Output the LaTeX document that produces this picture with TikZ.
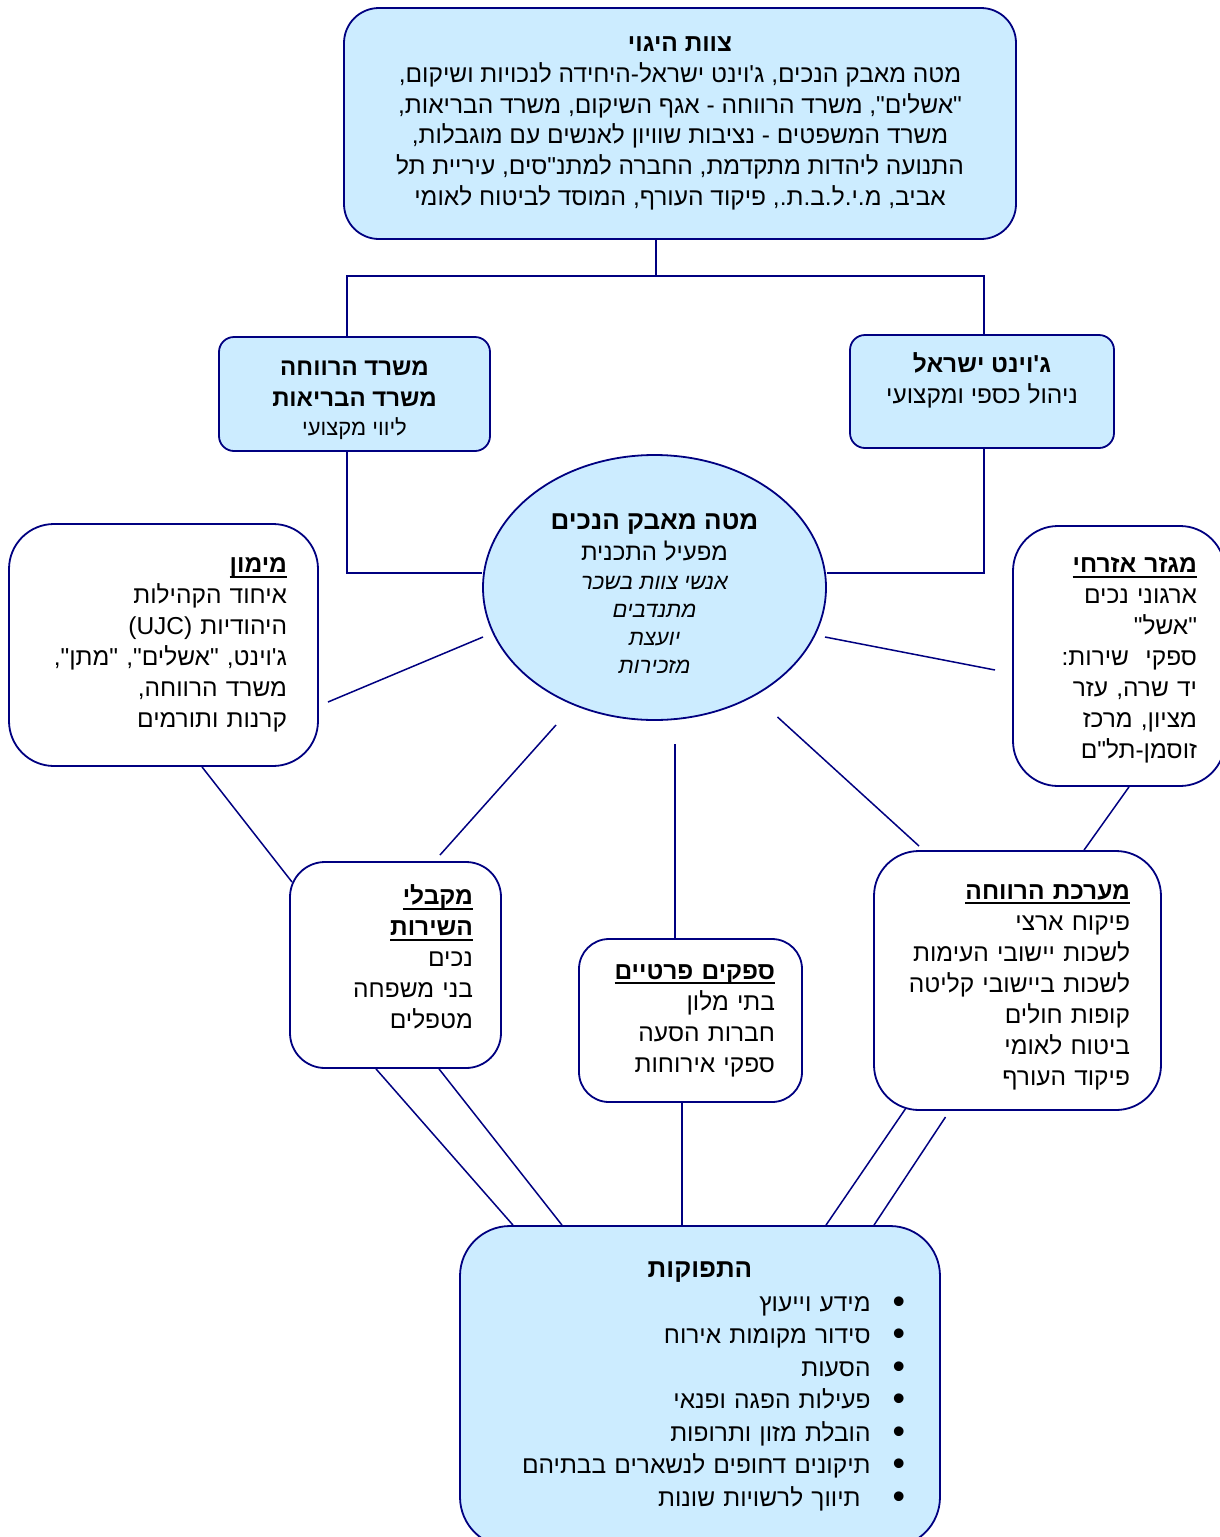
\documentclass[tikz,border=0pt]{standalone}
\usepackage{fontspec}
\usepackage{tikz}
\usetikzlibrary{shapes.geometric}
\newfontfamily\hebrew[Script=Hebrew]{Liberation Sans}
\TeXXeTstate=1
\definecolor{boxfill}{RGB}{204,236,255}
\definecolor{navyline}{RGB}{0,0,128}
\newcommand\rl[1]{\mbox{\beginR#1\endR}}
\newcommand\ulhead[1]{\leavevmode\setbox0=\hbox{\bfseries\beginR#1\endR}\rlap{\vrule height -3pt depth 5pt width \wd0}\box0}
% bullet kept outside the right-to-left run
\newcommand\bul[2][0pt]{\mbox{\beginR#2\endR\hskip#1\relax\hskip22pt\raisebox{-2pt}{\scalebox{1.45}{\textbullet}}}}

\begin{document}
\begin{tikzpicture}[x=1pt,y=-1pt,
    every node/.style={font=\hebrew\fontsize{24.5}{31}\selectfont},
    bluebox/.style={draw=navyline,fill=boxfill,line width=1.8,align=center},
    whitebox/.style={draw=navyline,fill=white,line width=1.8,align=right},
    spoke/.style={draw=navyline,line width=1.5}]
    \useasboundingbox (0,0) rectangle (1220,1537);
    % top of the tree
    \node[bluebox,rounded corners=35,minimum width=672,minimum height=231,
          font=\hebrew\fontsize{24.5}{30.7}\selectfont] (team) at (680,123.5)
        {\textbf{\rl{צוות היגוי}}\\
         \rl{מטה מאבק הנכים, ג'וינט ישראל-היחידה לנכויות ושיקום,}\\
         \rl{"אשלים", משרד הרווחה - אגף השיקום, משרד הבריאות,}\\
         \rl{משרד המשפטים - נציבות שוויון לאנשים עם מוגבלות,}\\
         \rl{התנועה ליהדות מתקדמת, החברה למתנ"סים, עיריית תל}\\
         \rl{אביב, מ.י.ל.ב.ת., פיקוד העורף, המוסד לביטוח לאומי}};
    \node[bluebox,rounded corners=15,minimum width=271,minimum height=114,
          font=\hebrew\fontsize{24}{31}\selectfont] (welfare) at (354.5,394)
        {\rule{0pt}{27pt}\textbf{\rl{משרד הרווחה}}\\ \textbf{\rl{משרד הבריאות}}\\[-2pt]
         {\fontsize{22}{24}\selectfont\rl{ליווי מקצועי}}};
    \node[bluebox,rounded corners=15,minimum width=264,minimum height=113] (joint) at (982,391.5)
        {\textbf{\rl{ג'וינט ישראל}}\\ \rl{ניהול כספי ומקצועי}\\[-4pt] ~};
    % centre
    \node[bluebox,ellipse,inner sep=0,minimum width=343,minimum height=265,
          font=\hebrew\fontsize{24}{28}\selectfont] (hq) at (654.5,587.5)
        {\rule{0pt}{27pt}{\bfseries\fontsize{26}{28}\selectfont\rl{מטה מאבק הנכים}}\\[3pt]
         \rl{מפעיל התכנית}\\[1pt]
         {\itshape\fontsize{22}{28}\selectfont\rl{אנשי צוות בשכר}}\\
         {\itshape\fontsize{22}{28}\selectfont\rl{מתנדבים}}\\
         {\itshape\fontsize{22}{28}\selectfont\rl{יועצת}}\\
         {\itshape\fontsize{22}{28}\selectfont\rl{מזכירות}}};
    % partners
    \node[whitebox,rounded corners=45,minimum width=309,minimum height=242,inner xsep=31,text width=247] (funding) at (163.5,645)
        {\ulhead{מימון}\\ \rl{איחוד הקהילות}\\ \rl{היהודיות (UJC)}\\
         \rl{ג'וינט, "אשלים", "מתן",}\\ \rl{משרד הרווחה,}\\ \rl{קרנות ותורמים}};
    \node[whitebox,rounded corners=45,minimum width=212,minimum height=260,inner xsep=28,text width=156] (civil) at (1119,656)
        {\rule{0pt}{24pt}\ulhead{מגזר אזרחי}\\ \rl{ארגוני נכים}\\ \rl{"אשל"}\\ \rl{ספקי\ \ שירות:}\\
         \rl{יד שרה, עזר}\\ \rl{מציון, מרכז}\\ \rl{זוסמן-תל"ם}};
    \node[whitebox,rounded corners=35,minimum width=211,minimum height=206,inner xsep=28,text width=155] (clients) at (395.5,965)
        {\ulhead{מקבלי}\\ \ulhead{השירות}\\ \rl{נכים}\\ \rl{בני משפחה}\\ \rl{מטפלים}\\[-15pt] \mbox{}};
    \node[whitebox,rounded corners=30,minimum width=223,minimum height=163,inner xsep=27,text width=169] (private) at (690.5,1020.5)
        {\ulhead{ספקים פרטיים}\\ \rl{בתי מלון}\\ \rl{חברות הסעה}\\ \rl{ספקי אירוחות}};
    \node[whitebox,rounded corners=45,minimum width=287,minimum height=259,inner xsep=31,text width=225] (welfsys) at (1017.5,980.5)
        {\rule{0pt}{28pt}\ulhead{מערכת הרווחה}\\ \rl{פיקוח ארצי}\\ \rl{לשכות יישובי העימות}\\ \rl{לשכות ביישובי קליטה}\\
         \rl{קופות חולים}\\ \rl{ביטוח לאומי}\\ \rl{פיקוד העורף}};
    % outputs
    \node[bluebox,align=right,rounded corners=50,minimum width=480,minimum height=321,inner xsep=35,text width=410,
          font=\hebrew\fontsize{24.5}{32.5}\selectfont] (outputs) at (700,1386.5)
        {\makebox[\linewidth]{\bfseries\fontsize{26}{30}\selectfont\rl{התפוקות}}\\[1pt]
         \bul{מידע וייעוץ}\\ \bul{סידור מקומות אירוח}\\ \bul{הסעות}\\ \bul{פעילות הפגה ופנאי}\\
         \bul{הובלת מזון ותרופות}\\ \bul{תיקונים דחופים לנשארים בבתיהם}\\ \bul[10pt]{תיווך לרשויות שונות}};
    % tree lines
    \coordinate (stem) at (656,276);
    \coordinate (forkL) at (347,276);
    \coordinate (forkR) at (984,276);
    \coordinate (elbowL) at (347,573);
    \coordinate (elbowR) at (984,573);
    \draw[spoke] (team.south -| stem) -- (stem);
    \draw[spoke] (welfare.north -| forkL) -- (forkL) -- (forkR) -- (joint.north -| forkR);
    \draw[spoke] (welfare.south -| elbowL) -- (elbowL) -- (hq.west |- elbowL);
    \draw[spoke] (joint.south -| elbowR) -- (elbowR) -- (hq.east |- elbowR);
    % spokes round the centre (free ends)
    \coordinate (hqFund) at (483,637);   \coordinate (fundHq) at (328,702);
    \coordinate (hqCivil) at (825,637);  \coordinate (civilHq) at (995,670);
    \coordinate (hqCli) at (556,725);    \coordinate (cliHq) at (440,855);
    \coordinate (hqPriv) at (675,744);
    \coordinate (hqSys) at (777.5,717);  \coordinate (sysHq) at (919,846);
    \draw[spoke] (hqFund) -- (fundHq);
    \draw[spoke] (hqCivil) -- (civilHq);
    \draw[spoke] (hqCli) -- (cliHq);
    \draw[spoke] (hqPriv) -- (private.north -| hqPriv);
    \draw[spoke] (hqSys) -- (sysHq);
    \coordinate (cliCorner) at (292,882);
    \draw[spoke] (funding.south -| 202,0) -- (cliCorner);
    \draw[spoke] (civil.south -| 1129,0) -- (welfsys.north -| 1084,0);
    % down to the outputs
    \draw[spoke] (clients.south -| 376,0) -- (outputs.north -| 513,0);
    \draw[spoke] (clients.south -| 439,0) -- (outputs.north -| 562,0);
    \draw[spoke] (private.south -| 682,0) -- (outputs.north -| 682,0);
    \coordinate (sysCorner) at (906,1108); \coordinate (sysOut) at (945.5,1117);
    \draw[spoke] (sysCorner) -- (outputs.north -| 826,0);
    \draw[spoke] (sysOut) -- (outputs.north -| 874,0);
\end{tikzpicture}
\end{document}
